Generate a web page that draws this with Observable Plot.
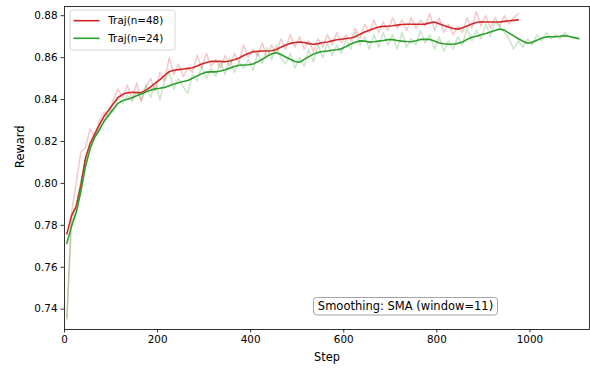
<!DOCTYPE html>
<html>
<head>
<meta charset="utf-8">
<script src="https://cdn.jsdelivr.net/npm/d3@7"></script>
<script src="https://cdn.jsdelivr.net/npm/@observablehq/plot@0.6"></script>
<style>
  html, body { margin: 0; padding: 0; background: white; }
</style>
</head>
<body>
<div id="chart"></div>
<script>
// ---- data ----
const stepStart = 5, stepEvery = 10;

const redRaw = [0.736,0.786,0.800,0.815,0.817,0.826,0.822,0.830,0.834,0.832,
0.840,0.845,0.841,0.847,0.840,0.848,0.839,0.846,0.850,0.844,
0.853,0.849,0.860,0.852,0.857,0.851,0.855,0.853,0.861,0.855,
0.862,0.856,0.859,0.855,0.861,0.856,0.862,0.858,0.866,0.860,
0.864,0.861,0.867,0.860,0.866,0.862,0.869,0.864,0.871,0.865,
0.870,0.864,0.868,0.863,0.869,0.865,0.871,0.866,0.872,0.867,
0.871,0.868,0.874,0.869,0.876,0.872,0.878,0.872,0.877,0.873,
0.879,0.874,0.878,0.873,0.879,0.874,0.878,0.875,0.881,0.873,
0.879,0.872,0.876,0.871,0.875,0.872,0.879,0.874,0.882,0.875,
0.880,0.874,0.879,0.875,0.880,0.876,0.879,0.881];

const redSmooth = [0.7759,0.7845,0.789,0.799,0.812,0.819,0.8236,0.828,0.832,0.835,
0.838,0.841,0.8425,0.8432,0.8435,0.8433,0.8433,0.8445,0.846,0.8478,
0.8495,0.8515,0.8533,0.854,0.8543,0.8546,0.8549,0.8552,0.856,0.857,
0.8577,0.8582,0.8583,0.8582,0.858,0.8584,0.859,0.8598,0.861,0.862,
0.8628,0.863,0.8632,0.8632,0.8633,0.8639,0.865,0.866,0.8668,0.8672,
0.8675,0.8672,0.8667,0.8664,0.8667,0.8672,0.8675,0.868,0.8685,0.8688,
0.8691,0.8694,0.87,0.8712,0.8722,0.8731,0.8739,0.8746,0.8749,0.875,
0.8752,0.8755,0.8758,0.8759,0.8759,0.8759,0.8759,0.876,0.8766,0.877,
0.8762,0.8753,0.8746,0.8739,0.8736,0.8743,0.8751,0.876,0.8768,0.8771,
0.877,0.877,0.877,0.877,0.8773,0.8776,0.8778,0.878];

const greenRaw = [0.735,0.781,0.789,0.801,0.810,0.818,0.822,0.827,0.829,0.835,
0.834,0.841,0.838,0.842,0.839,0.844,0.840,0.847,0.841,0.848,
0.840,0.849,0.853,0.845,0.850,0.846,0.843,0.852,0.849,0.856,
0.850,0.855,0.851,0.858,0.852,0.860,0.853,0.858,0.855,0.859,
0.854,0.862,0.857,0.865,0.859,0.866,0.860,0.857,0.862,0.855,
0.860,0.856,0.864,0.858,0.866,0.860,0.867,0.861,0.866,0.862,
0.869,0.864,0.872,0.866,0.870,0.864,0.871,0.865,0.872,0.866,
0.871,0.864,0.872,0.865,0.869,0.866,0.873,0.867,0.871,0.864,
0.870,0.863,0.868,0.864,0.870,0.866,0.874,0.868,0.873,0.869,
0.876,0.870,0.877,0.875,0.872,0.869,0.864,0.868,0.865,0.869,
0.866,0.871,0.868,0.872,0.869,0.871,0.869,0.872,0.870,0.869,
0.870];

const greenSmooth = [0.7714,0.7795,0.786,0.796,0.808,0.8165,0.822,0.8255,0.8297,0.8325,
0.8355,0.8382,0.8395,0.8402,0.8409,0.8418,0.8427,0.8436,0.8445,0.8451,
0.8454,0.8458,0.8466,0.8474,0.848,0.8486,0.8491,0.8502,0.8513,0.8523,
0.8531,0.8532,0.8532,0.8536,0.8542,0.855,0.8558,0.8564,0.8565,0.8566,
0.857,0.858,0.8592,0.8606,0.8618,0.8623,0.8615,0.8603,0.8592,0.8582,
0.8578,0.8592,0.8605,0.8617,0.8625,0.8629,0.8632,0.8635,0.8638,0.8642,
0.8653,0.8665,0.8673,0.868,0.8679,0.8674,0.8676,0.8679,0.8682,0.8686,
0.8686,0.8682,0.8679,0.8677,0.8676,0.8681,0.8687,0.8688,0.8687,0.8679,
0.867,0.8666,0.8664,0.8664,0.8668,0.8675,0.8687,0.8697,0.8702,0.8709,
0.8715,0.8722,0.8729,0.8737,0.8731,0.8717,0.8704,0.869,0.8678,0.8669,
0.8673,0.8683,0.8692,0.8699,0.87,0.87,0.8702,0.8705,0.8701,0.8696,
0.869];

const seriesNames = ["Traj(n=48)", "Traj(n=24)"];
const seriesColors = ["#d62728", "#2ca02c"];
const xTicks = [0, 200, 400, 600, 800, 1000];
const yTicks = [0.74, 0.76, 0.78, 0.80, 0.82, 0.84, 0.86, 0.88];
const xLabel = "Step";
const yLabel = "Reward";
const noteText = "Smoothing: SMA (window=11)";

// ---- build tables ----
const toRows = (vals) => vals.map((v, i) => ({step: stepStart + i * stepEvery, value: v}));
const rRaw = toRows(redRaw), rSm = toRows(redSmooth);
const gRaw = toRows(greenRaw), gSm = toRows(greenSmooth);

const font = "DejaVu Sans, sans-serif";

const chart = Plot.plot({
  width: 590,
  height: 370,
  marginLeft: 64,
  marginRight: 1,
  marginTop: 6,
  marginBottom: 41,
  style: {fontFamily: font, fontSize: "10.4px", color: "black", background: "white"},
  x: {domain: [0, 1128], label: null},
  y: {domain: [0.7303, 0.8844], label: null},
  marks: [
    Plot.line(rRaw, {x: "step", y: "value", stroke: seriesColors[0], strokeOpacity: 0.25, strokeWidth: 1.5}),
    Plot.line(rSm, {x: "step", y: "value", stroke: seriesColors[0], strokeWidth: 1.6}),
    Plot.line(gRaw, {x: "step", y: "value", stroke: seriesColors[1], strokeOpacity: 0.25, strokeWidth: 1.5}),
    Plot.line(gSm, {x: "step", y: "value", stroke: seriesColors[1], strokeWidth: 1.6}),
    Plot.frame({stroke: "black", strokeWidth: 0.8}),
    Plot.axisX({ticks: xTicks, tickFormat: d => String(d), tickSize: 3.5, tickPadding: 2.5, label: null, stroke: "black", strokeWidth: 0.8, fill: "black", fontSize: 10.4}),
    Plot.axisY({ticks: yTicks, tickFormat: d => d.toFixed(2), tickSize: 3.5, tickPadding: 3.5, label: null, stroke: "black", strokeWidth: 0.8, fill: "black", fontSize: 10.4}),
    Plot.text([xLabel], {frameAnchor: "bottom", dy: 31, fill: "black", fontSize: 11.4}),
    Plot.text([yLabel], {frameAnchor: "left", dx: -44.5, rotate: -90, fill: "black", fontSize: 11.4})
  ]
});

document.getElementById("chart").appendChild(chart);

// ---- legend (upper left, inside axes) ----
const svg = d3.select(chart);
const lg = svg.append("g");
lg.append("rect")
  .attr("x", 70).attr("y", 10).attr("width", 105).attr("height", 40)
  .attr("rx", 2.5).attr("fill", "white").attr("fill-opacity", 0.8)
  .attr("stroke", "#cccccc").attr("stroke-width", 0.8);
seriesNames.forEach((name, i) => {
  const yy = 20.7 + i * 17.6;
  lg.append("line").attr("x1", 73.5).attr("x2", 99.5).attr("y1", yy).attr("y2", yy)
    .attr("stroke", seriesColors[i]).attr("stroke-width", 1.6);
  lg.append("text").attr("x", 108.3).attr("y", yy).attr("dy", "0.35em")
    .attr("text-anchor", "start")
    .attr("font-family", font).attr("font-size", 10.4).attr("fill", "black").text(name);
});

// ---- annotation box ----
const ng = svg.append("g");
ng.append("rect")
  .attr("x", 313.5).attr("y", 297.5).attr("width", 184).attr("height", 17.5)
  .attr("rx", 3).attr("fill", "white").attr("stroke", "#999999").attr("stroke-width", 0.9);
ng.append("text").attr("x", 405.5).attr("y", 306.3).attr("dy", "0.35em")
  .attr("text-anchor", "middle").attr("font-family", font).attr("font-size", 11.5)
  .attr("fill", "black").text(noteText);
</script>
</body>
</html>
